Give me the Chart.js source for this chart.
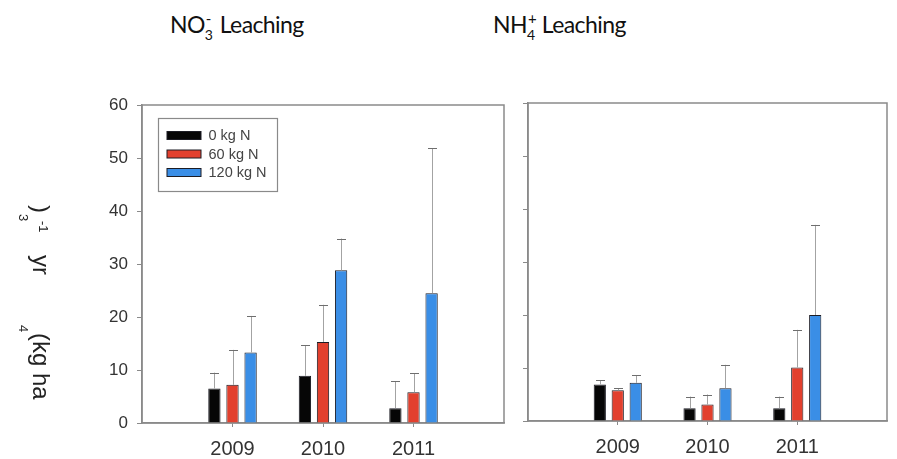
<!DOCTYPE html>
<html>
<head>
<meta charset="utf-8">
<script src="https://cdn.jsdelivr.net/npm/chart.js@4.4.1/dist/chart.umd.min.js"></script>
<style>
  html, body { margin: 0; padding: 0; background: #fff; }
  body { width: 897px; height: 459px; position: relative; overflow: hidden; font-family: "Liberation Sans", Arial, sans-serif; }
  canvas { position: absolute; top: 0; }
  #leftChart { left: 0; }
  #rightChart { left: 516px; }
  .title { position: absolute; top: 9px; font-family: Lato, "Open Sans", sans-serif; font-size: 23px; letter-spacing: -0.6px; color: #111; white-space: nowrap; line-height: 30px; }
  .title .ion { position: relative; display: inline-block; width: 0.42em; height: 1em; }
  .title .ion .dn { position: absolute; left: 0; top: 10px; font-size: 14px; }
  .title .ion .up { position: absolute; left: 1px; top: -7px; font-size: 15px; }
</style>
</head>
<body>
<div class="title" style="left:170px;">NO<span class="ion"><span class="dn">3</span><span class="up">-</span></span> Leaching</div>
<div class="title" style="left:493px;">NH<span class="ion"><span class="dn">4</span><span class="up">+</span></span> Leaching</div>

<canvas id="leftChart" width="516" height="459"></canvas>
<canvas id="rightChart" width="381" height="459"></canvas>

<script>
// Years sampled and nitrogen rates
const years = ['2009', '2010', '2011'];
const rateNames = ['0 kg N', '60 kg N', '120 kg N'];
const rateColors = ['#060606', '#e2402e', '#3a8ee6'];

// Y axis range and step (kg ha-1 yr-1)
const yMin = 0;
const yMax = 60;
const yStep = 10;

// NO3- leaching: means per rate
const no3Rate0 = [6.5, 8.9, 2.8];
const no3Rate60 = [7.2, 15.3, 5.8];
const no3Rate120 = [13.3, 28.8, 24.5];
// NO3- leaching: standard deviations
const no3Rate0Sd = [3.0, 5.8, 5.1];
const no3Rate60Sd = [6.6, 7.0, 3.6];
const no3Rate120Sd = [6.9, 6.0, 27.3];

// NH4+ leaching: means per rate
const nh4Rate0 = [6.9, 2.4, 2.4];
const nh4Rate60 = [5.8, 3.1, 10.1];
const nh4Rate120 = [7.2, 6.2, 20.0];
// NH4+ leaching: standard deviations
const nh4Rate0Sd = [0.8, 2.2, 2.2];
const nh4Rate60Sd = [0.4, 1.9, 7.1];
const nh4Rate120Sd = [1.4, 4.4, 17.0];

// Pieces of the vertical axis title: text, font size, baseline x, start y
const yTitleParts = [
  [')', 24, 33, 205],
  ['3', 13, 19, 214],
  ['-1', 13, 39, 221],
  ['yr', 24, 33, 255],
  ['4', 13, 19, 325],
  ['(kg ha', 24, 33, 333]
];

// Empty slot on each side so the year groups sit at 1/4, 2/4, 3/4 of the axis
const axisLabels = ['', ...years, ''];
const pad = arr => [null, ...arr, null];

const axisGrey = '#8a8a8a';
const tickText = '#333';
const fontFamily = '"Liberation Sans", Arial, sans-serif';

function buildDatasets(means, sds) {
  return means.map((m, i) => ({
    label: rateNames[i],
    data: pad(m),
    errors: pad(sds[i]),
    backgroundColor: rateColors[i],
    borderColor: '#1c1c24',
    borderWidth: 1,
    borderSkipped: 'bottom',
    categoryPercentage: 0.6,
    barPercentage: 0.68
  }));
}

// Box around the plotting area
const framePlugin = {
  id: 'frame',
  beforeDatasetsDraw(chart) {
    const { ctx, chartArea: a } = chart;
    ctx.save();
    ctx.strokeStyle = axisGrey;
    ctx.lineWidth = 1.5;
    ctx.strokeRect(a.left, a.top, a.right - a.left, a.bottom - a.top);
    ctx.restore();
  }
};

// Upper error bars with a short cap
const errorBarPlugin = {
  id: 'errorBars',
  afterDatasetsDraw(chart) {
    const ctx = chart.ctx;
    const yScale = chart.scales.y;
    chart.data.datasets.forEach((ds, di) => {
      const meta = chart.getDatasetMeta(di);
      meta.data.forEach((bar, i) => {
        const v = ds.data[i];
        const e = ds.errors[i];
        if (v == null || e == null) return;
        const top = yScale.getPixelForValue(v + e);
        const x = Math.round(bar.x) + 0.5;
        ctx.save();
        ctx.lineWidth = 1;
        ctx.strokeStyle = '#a3a3a3';
        ctx.beginPath();
        ctx.moveTo(x, bar.y);
        ctx.lineTo(x, top);
        ctx.stroke();
        ctx.strokeStyle = '#6e6e6e';
        ctx.beginPath();
        ctx.moveTo(x - 4.5, Math.round(top) + 0.5);
        ctx.lineTo(x + 4.5, Math.round(top) + 0.5);
        ctx.stroke();
        ctx.restore();
      });
    });
  }
};

// Legend box in the upper left corner of the plot
const boxLegendPlugin = {
  id: 'boxLegend',
  afterDatasetsDraw(chart) {
    const { ctx, chartArea: a } = chart;
    const bx = a.left + 16.5, by = a.top + 13.5, bw = 119, bh = 73;
    ctx.save();
    ctx.strokeStyle = axisGrey;
    ctx.lineWidth = 1.2;
    ctx.strokeRect(bx, by, bw, bh);
    ctx.font = '14.5px ' + fontFamily;
    ctx.textBaseline = 'middle';
    chart.data.datasets.forEach((ds, i) => {
      const cy = by + 17 + i * 18.5;
      ctx.fillStyle = ds.backgroundColor;
      ctx.fillRect(bx + 8.5, cy - 4, 34, 8);
      ctx.strokeStyle = '#1c1c24';
      ctx.lineWidth = 1;
      ctx.strokeRect(bx + 8.5, cy - 4, 34, 8);
      ctx.fillStyle = '#444';
      ctx.fillText(ds.label, bx + 50, cy + 0.5);
    });
    ctx.restore();
  }
};

// Rotated (top-to-bottom) axis title pieces
const yTitlePlugin = {
  id: 'yTitle',
  afterDraw(chart) {
    const ctx = chart.ctx;
    ctx.save();
    ctx.fillStyle = '#222';
    ctx.textBaseline = 'alphabetic';
    ctx.textAlign = 'left';
    yTitleParts.forEach(([text, size, bx, sy]) => {
      ctx.save();
      ctx.font = size + 'px ' + fontFamily;
      ctx.translate(bx, sy);
      ctx.rotate(Math.PI / 2);
      ctx.fillText(text, 0, 0);
      ctx.restore();
    });
    ctx.restore();
  }
};

function makeChart(canvasId, datasets, cfg) {
  return new Chart(document.getElementById(canvasId), {
    type: 'bar',
    data: { labels: axisLabels, datasets },
    options: {
      responsive: false,
      animation: false,
      devicePixelRatio: 1,
      layout: { padding: cfg.padding },
      plugins: { legend: { display: false }, tooltip: { enabled: false }, title: { display: false } },
      scales: {
        x: {
          type: 'category',
          offset: false,
          afterFit: s => { s.height = cfg.xHeight; },
          grid: {
            offset: false,
            drawOnChartArea: false,
            drawTicks: true,
            tickLength: 4,
            color: c => (c.tick && c.tick.label ? axisGrey : 'rgba(0,0,0,0)')
          },
          border: { display: true, color: axisGrey, width: 1.5 },
          ticks: {
            color: tickText,
            padding: 10,
            maxRotation: 0,
            autoSkip: false,
            font: { family: fontFamily, size: 20 }
          }
        },
        y: {
          min: yMin,
          max: yMax,
          afterFit: s => { s.width = cfg.yWidth; },
          grid: { drawOnChartArea: false, drawTicks: true, tickLength: 5, color: axisGrey },
          border: { display: true, color: axisGrey, width: 1.5 },
          ticks: {
            display: cfg.yLabels,
            stepSize: yStep,
            color: tickText,
            padding: 9,
            font: { family: fontFamily, size: 17 }
          }
        }
      }
    },
    plugins: cfg.plugins
  });
}

makeChart('leftChart',
  buildDatasets([no3Rate0, no3Rate60, no3Rate120], [no3Rate0Sd, no3Rate60Sd, no3Rate120Sd]),
  { padding: { left: 0, top: 105, right: 12, bottom: 0 }, yWidth: 142, xHeight: 36, yLabels: true,
    plugins: [framePlugin, errorBarPlugin, boxLegendPlugin, yTitlePlugin] });

makeChart('rightChart',
  buildDatasets([nh4Rate0, nh4Rate60, nh4Rate120], [nh4Rate0Sd, nh4Rate60Sd, nh4Rate120Sd]),
  { padding: { left: 0, top: 103, right: 6, bottom: 0 }, yWidth: 12, xHeight: 38, yLabels: false,
    plugins: [framePlugin, errorBarPlugin] });
</script>
</body>
</html>
